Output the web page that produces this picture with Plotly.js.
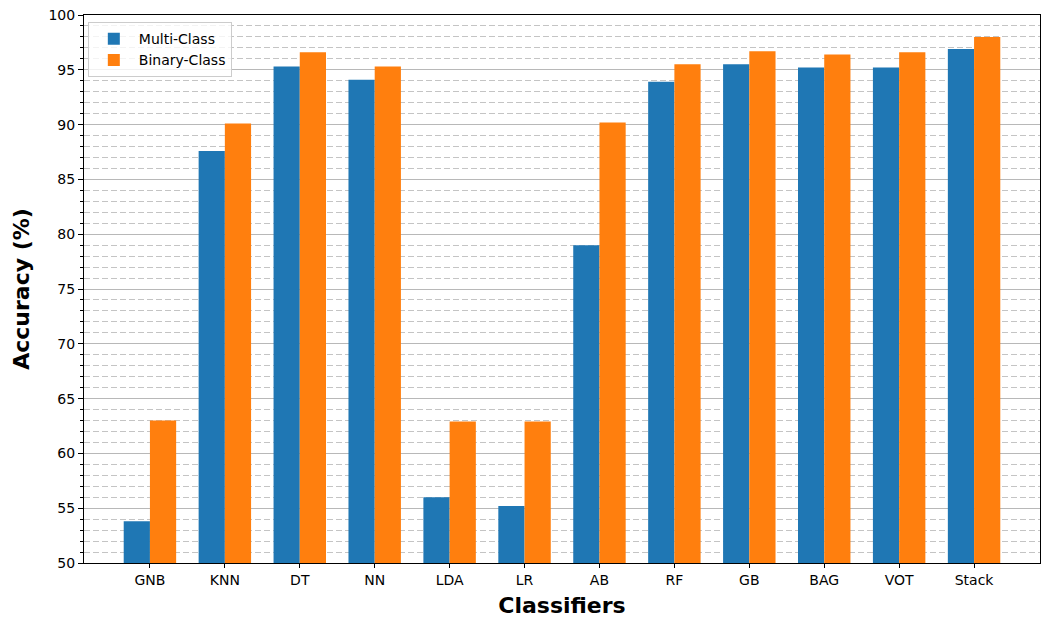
<!DOCTYPE html>
<html><head><meta charset="utf-8">
<script src="https://cdn.plot.ly/plotly-3.0.1.min.js"></script>
<style>html,body{margin:0;padding:0;background:#fff}#chart{width:1041px;height:618px}</style>
</head><body><div id="chart"></div>
<script>
const categories = ["GNB","KNN","DT","NN","LDA","LR","AB","RF","GB","BAG","VOT","Stack"];
const multiClass = [53.8, 87.6, 95.3, 94.1, 56.0, 55.2, 79.0, 93.9, 95.5, 95.2, 95.2, 96.9];
const binaryClass = [63.0, 90.1, 96.6, 95.3, 62.9, 62.9, 90.2, 95.5, 96.7, 96.4, 96.6, 98.0];
const yTicks = [50,55,60,65,70,75,80,85,90,95,100];

const font = "DejaVu Sans, sans-serif";
const traces = [
  {type:"bar", name:"Multi-Class", x:categories, y:multiClass, marker:{color:"#1f77b4", line:{width:0}}},
  {type:"bar", name:"Binary-Class", x:categories, y:binaryClass, marker:{color:"#ff7f0e", line:{width:0}}}
];
const layout = {
  width:1041, height:618,
  margin:{l:84, r:1, t:15, b:55},
  paper_bgcolor:"#fff", plot_bgcolor:"#fff",
  font:{family:font, color:"#000", size:14},
  barmode:"group", bargap:0.3, bargroupgap:0,
  showlegend:true,
  legend:{x:0.004, y:0.987, xanchor:"left", yanchor:"top", bgcolor:"rgba(255,255,255,0.8)",
    bordercolor:"#cccccc", borderwidth:1, font:{family:font, size:14}, tracegroupgap:2, itemwidth:40},
  xaxis:{
    type:"category", range:[-0.88, 11.88],
    showline:true, mirror:true, linecolor:"#000", linewidth:1,
    ticks:"outside", ticklen:4, tickcolor:"#000",
    showgrid:false, zeroline:false,
    tickfont:{family:font, size:14},
    title:{text:"<b>Classifiers</b>", font:{family:font, size:22}, standoff:10}
  },
  yaxis:{
    range:[50,100], tickvals:yTicks, ticktext:yTicks.map(String),
    showline:true, mirror:true, linecolor:"#000", linewidth:1,
    ticks:"outside", ticklen:5, tickcolor:"#000",
    showgrid:true, gridcolor:"#b8b8b8", gridwidth:1,
    zeroline:false,
    tickfont:{family:font, size:14},
    minor:{dtick:1, tick0:50, showgrid:true, gridcolor:"#c4c4c4", griddash:"6px,3px", gridwidth:1,
      ticks:"outside", ticklen:3, tickcolor:"#000"},
    title:{text:"<b>Accuracy (%)</b>", font:{family:font, size:22}, standoff:12}
  }
};
Plotly.newPlot("chart", traces, layout, {displayModeBar:false, staticPlot:true});
</script></body></html>
